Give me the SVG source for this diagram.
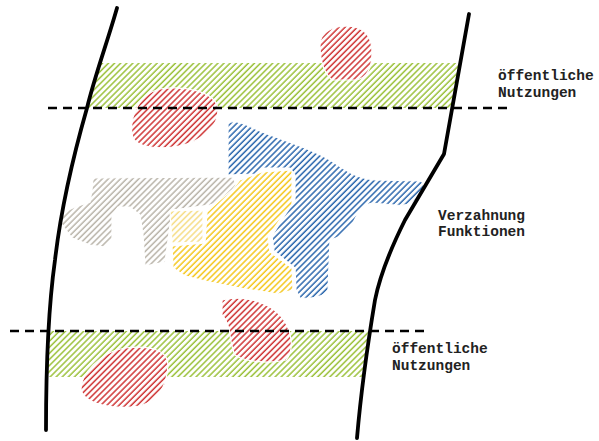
<svg xmlns="http://www.w3.org/2000/svg" width="599" height="441" viewBox="0 0 599 441">
<style>
.lbl{font-family:"Liberation Mono","Courier New",monospace;font-weight:bold;font-size:14.5px;fill:#222}
.edge{fill:none;stroke:#000;stroke-width:3.8;stroke-linecap:round;stroke-linejoin:round}
.dash{fill:none;stroke:#000;stroke-width:2.5;stroke-dasharray:9 6}
.blob{stroke:#fff;stroke-width:1.2}
</style>
<defs>
<pattern id="hG" patternUnits="userSpaceOnUse" width="4.3" height="4.3" patternTransform="rotate(45)"><line x1="1" y1="0" x2="1" y2="4.3" stroke="#9bc13a" stroke-width="1.5"/></pattern>
<pattern id="hR" patternUnits="userSpaceOnUse" width="4.3" height="4.3" patternTransform="rotate(45)"><rect width="4.3" height="4.3" fill="#fff"/><line x1="1" y1="0" x2="1" y2="4.3" stroke="#cf3535" stroke-width="1.5"/></pattern>
<pattern id="hB" patternUnits="userSpaceOnUse" width="4.3" height="4.3" patternTransform="rotate(45)"><rect width="4.3" height="4.3" fill="#fff"/><line x1="1" y1="0" x2="1" y2="4.3" stroke="#2a66ad" stroke-width="1.5"/></pattern>
<pattern id="hY" patternUnits="userSpaceOnUse" width="4.3" height="4.3" patternTransform="rotate(45)"><rect width="4.3" height="4.3" fill="#fff"/><line x1="1" y1="0" x2="1" y2="4.3" stroke="#f5c71c" stroke-width="1.5"/></pattern>
<pattern id="hP" patternUnits="userSpaceOnUse" width="4.3" height="4.3" patternTransform="rotate(45)"><rect width="4.3" height="4.3" fill="#fff"/><line x1="1" y1="0" x2="1" y2="4.3" stroke="#f6dd86" stroke-width="1.5"/></pattern>
<pattern id="hN" patternUnits="userSpaceOnUse" width="4.3" height="4.3" patternTransform="rotate(45)"><rect width="4.3" height="4.3" fill="#fff"/><line x1="1" y1="0" x2="1" y2="4.3" stroke="#bab5aa" stroke-width="1.5"/></pattern>
</defs>
<rect width="599" height="441" fill="#fff"/>

<g id="zone-top"><polygon points="100,63 459,63 453,108 87,108" fill="url(#hG)"/></g>
<g id="zone-bottom"><polygon points="47,331 368,331 363,377 46,377" fill="url(#hG)"/></g>

<g id="gray"><path class="blob" fill="url(#hN)" d="M93,178 L233,177 L238,190 L232,197 L210,205 L172,210 L168,240 L165,262 L145,266 L143,235 L140,215 L130,207 L118,207 L112,215 L112,240 L105,247 L90,245 L72,238 L60,222 L62,213 L75,207 L90,202 L92,190 Z"/></g>
<g id="paleyellow"><path class="blob" fill="url(#hP)" d="M170,211 L203,210 L203,242 L172,243 Z"/></g>
<g id="yellow"><path class="blob" fill="url(#hY)" d="M262,172 L292,170 L292,205 L281,218 L268,237 L270,252 L292,268 L293,290 L278,294 L240,288 L210,282 L185,276 L173,268 L172,246 L205,243 L207,212 L220,200 L232,190 L240,180 Z"/></g>
<g id="blue"><path class="blob" fill="url(#hB)" d="M228,124 C232,118 245,124 262,132 C285,141 310,148 330,160 C345,170 355,178 375,180 L420,181 C426,183 424,190 418,197 C413,204 405,206 395,205 L372,203 C362,205 358,212 352,225 C347,233 338,238 330,240 L328,290 C325,297 310,299 300,298 L296,290 L295,268 L274,251 L272,236 L285,215 L295,200 L295,175 L290,168 L262,168 L255,174 L228,175 Z"/></g>

<g id="red-1"><path class="blob" fill="url(#hR)" d="M320,45 C320,31 334,26 348,26 C364,27 372,36 372,52 C372,66 368,78 356,80 L332,80 C323,72 320,58 320,45 Z"/></g>
<g id="red-2"><path class="blob" fill="url(#hR)" d="M160,89 C185,85 212,92 217,105 C221,120 210,135 190,143 C170,150 140,150 133,138 C128,125 135,95 160,89 Z"/></g>
<g id="red-3"><path class="blob" fill="url(#hR)" d="M222,300 C240,295 265,300 280,315 C292,328 295,350 286,360 C270,364 245,362 235,355 C228,340 232,325 222,315 Z"/></g>
<g id="red-4"><path class="blob" fill="url(#hR)" d="M125,348 C150,345 168,350 168,365 C167,385 160,400 140,406 C115,410 85,405 81,390 C80,375 100,352 125,348 Z"/></g>

<g id="connectors">
<line class="dash" x1="48" y1="108" x2="508" y2="108"/>
<line class="dash" x1="10" y1="331" x2="424" y2="331"/>
<path class="edge" d="M117,8 C108,40 95,75 87,108 C75,150 62,200 55,260 C48,310 46,360 46,430"/>
<path class="edge" d="M469,14 L444,154 L405,220 C390,250 380,275 375,300 C370,330 362,380 357,438"/>
</g>

<g id="label-top"><text class="lbl" x="498" y="80">öffentliche</text><text class="lbl" x="498" y="97">Nutzungen</text></g>
<g id="label-mid"><text class="lbl" x="438" y="220">Verzahnung</text><text class="lbl" x="438" y="236">Funktionen</text></g>
<g id="label-bottom"><text class="lbl" x="392" y="353">öffentliche</text><text class="lbl" x="392" y="370">Nutzungen</text></g>
</svg>
